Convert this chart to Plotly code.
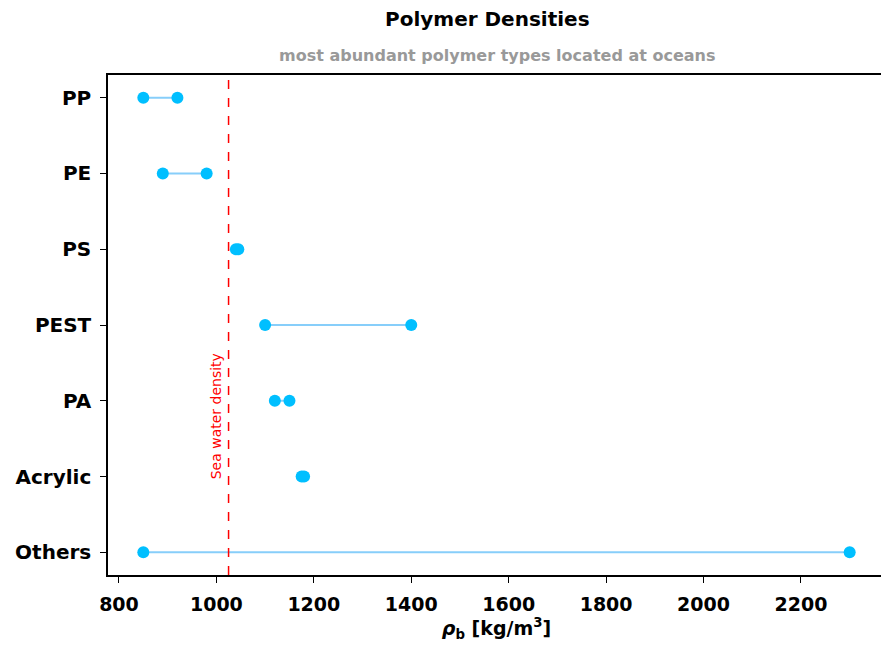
import plotly.graph_objects as go

polymers = ["PP", "PE", "PS", "PEST", "PA", "Acrylic", "Others"]
density_min = [850, 890, 1040, 1100, 1120, 1175, 850]
density_max = [920, 980, 1045, 1400, 1150, 1180, 2300]
sea_water_density = 1025
x_ticks = [800, 1000, 1200, 1400, 1600, 1800, 2000, 2200]

fig = go.Figure()
for name, lo, hi in zip(polymers, density_min, density_max):
    fig.add_trace(go.Scatter(
        x=[lo, hi], y=[name, name], mode="lines+markers",
        line=dict(color="#87CEFA", width=2),
        marker=dict(color="#00BFFF", size=12, symbol="circle"),
        showlegend=False, hoverinfo="x+y"))

fig.add_vline(x=sea_water_density, line=dict(color="red", width=1.5, dash="dash"))
fig.add_annotation(x=1000, y=4.2, text="Sea water density", textangle=-90,
                   showarrow=False, font=dict(color="red", size=14, family="DejaVu Sans"))

fig.add_annotation(text="<b>Polymer Densities</b>", xref="paper", yref="paper",
                   x=0.5, y=1, yshift=56, xshift=-9, showarrow=False, yanchor="middle",
                   font=dict(size=20, color="black", family="DejaVu Sans"))
fig.add_annotation(text="<b>most abundant polymer types located at oceans</b>", xref="paper", yref="paper",
                   x=0.5, y=1, yshift=20, showarrow=False, yanchor="middle",
                   font=dict(size=16, color="#999999", family="DejaVu Sans"))

fig.update_layout(
    width=889, height=672,
    margin=dict(l=100, r=12, t=67, b=105, autoexpand=False),
    plot_bgcolor="white", paper_bgcolor="white",
    font=dict(family="DejaVu Sans", color="black"),
    xaxis=dict(range=[777.5, 2372.5], tickvals=x_ticks, showgrid=False, zeroline=False,
               showline=True, linecolor="black", linewidth=1.5, mirror=True,
               ticks="outside", ticklen=6, tickcolor="black",
               tickfont=dict(size=19, family="DejaVu Sans", weight="bold"),
               ticklabelstandoff=5, automargin=False,
               title=dict(text="<i>ρ</i><sub>b</sub> [kg/m<sup>3</sup>]",
                          font=dict(size=19, weight="bold"), standoff=6)),
    yaxis=dict(type="category", categoryorder="array", categoryarray=polymers,
               range=[6.3, -0.3], showgrid=False, zeroline=False,
               showline=True, linecolor="black", linewidth=1.5, mirror=True,
               ticks="outside", ticklen=6, tickcolor="black", automargin=False,
               ticklabelstandoff=5,
               tickfont=dict(size=20, family="DejaVu Sans", weight="bold")),
)

fig.write_html("out.html")
